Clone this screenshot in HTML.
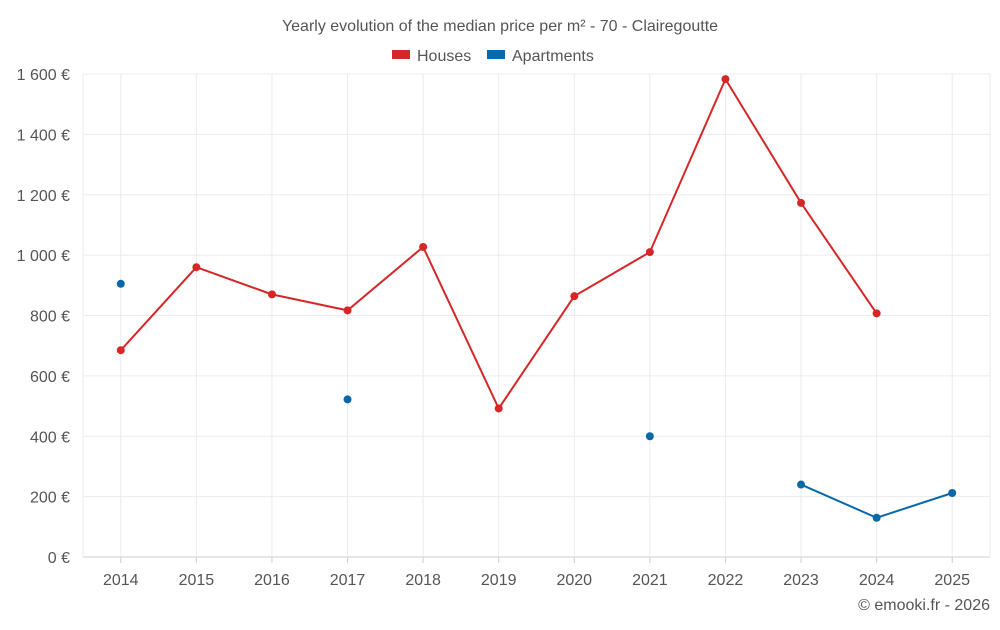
<!DOCTYPE html>
<html><head><meta charset="utf-8"><style>
body{margin:0;background:#fff;font-family:"Liberation Sans",sans-serif;}
svg text{font-family:"Liberation Sans",sans-serif;fill:#555;}
</style></head><body>
<svg id="chart" width="1000" height="625" xmlns="http://www.w3.org/2000/svg">
<text x="500" y="31" text-anchor="middle" font-size="16">Yearly evolution of the median price per m² - 70 - Clairegoutte</text>
<g>
<g><rect x="392" y="50" width="18" height="9" fill="#d62728"/><text x="417" y="61" font-size="16">Houses</text></g>
<g><rect x="487" y="50" width="18" height="9" fill="#0868a8"/><text x="512" y="61" font-size="16">Apartments</text></g>
</g>
<g id="grid"></g><g id="axes"></g><g id="series"></g>
<text x="990" y="610" text-anchor="end" font-size="16">© emooki.fr - 2026</text>
</svg>
<script>
const years=["2014","2015","2016","2017","2018","2019","2020","2021","2022","2023","2024","2025"];
const houses=[685,960,870,817,1027,492,864,1010,1583,1173,807,null];
const apartments=[905,null,null,522,null,null,null,400,null,240,130,212];
const yTicks=[0,200,400,600,800,1000,1200,1400,1600];
const yLabels=["0 €","200 €","400 €","600 €","800 €","1 000 €","1 200 €","1 400 €","1 600 €"];
const NS="http://www.w3.org/2000/svg";
const L=83,R=990,T=74,B=557,step=(R-L)/years.length;
const x=i=>L+step*(i+0.5);
const y=v=>B-(v/1600)*(B-T);
function mk(p,tag,a){const e=document.createElementNS(NS,tag);for(const k in a)e.setAttribute(k,a[k]);p.appendChild(e);return e;}
const g=document.getElementById('grid'),ax=document.getElementById('axes'),s=document.getElementById('series');
yTicks.forEach((v,i)=>{
 const l=mk(g,'line',{x1:L,x2:R,y1:y(v),y2:y(v),stroke:i==0?'#ccc':'#ebebeb'});
 
 
 const t=mk(ax,'text',{x:70,y:y(v)+6,'text-anchor':'end','font-size':16});
 t.textContent=yLabels[i];
 
 
});
[L,R].concat(years.map((_,i)=>x(i))).forEach(px=>{
 const l=mk(g,'line',{x1:px,x2:px,y1:T,y2:B,stroke:'#ebebeb'});
 
 
});
years.forEach((yr,i)=>{
 const t=mk(ax,'text',{x:x(i),y:585,'text-anchor':'middle','font-size':16});
 t.textContent=yr;
 
 
 const k=mk(ax,'line',{x1:x(i),x2:x(i),y1:B,y2:B+6,stroke:'#ccc'});
 
 
});
function draw(data,color,name){
 let seg=[];const segs=[];
 data.forEach((v,i)=>{if(v==null){if(seg.length)segs.push(seg);seg=[];}else seg.push([x(i),y(v)]);});
 if(seg.length)segs.push(seg);
 segs.forEach(sg=>{if(sg.length>1){
  const p=mk(s,'polyline',{points:sg.map(q=>q.join(',')).join(' '),fill:'none',stroke:color,'stroke-width':2});
  
  }});
 data.forEach((v,i)=>{if(v==null)return;
  const c=mk(s,'circle',{cx:x(i),cy:y(v),r:4,fill:color});
  
  });
}
draw(houses,'#d62728','houses');
draw(apartments,'#0868a8','apartments');
</script>
</body></html>
